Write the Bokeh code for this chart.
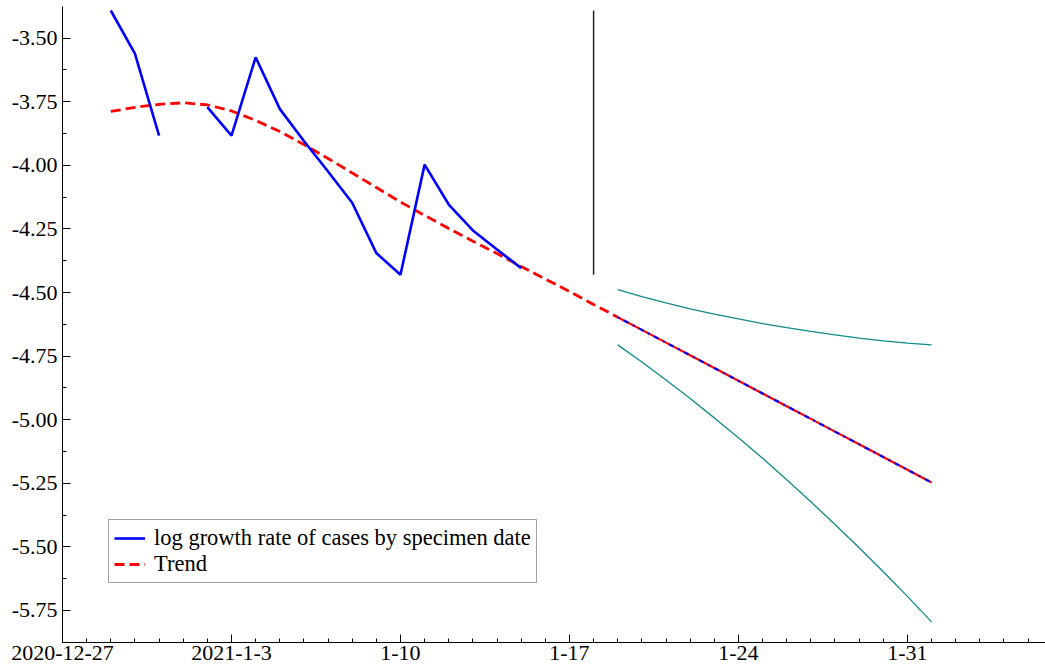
import numpy as np
import pandas as pd
from bokeh.plotting import figure
from bokeh.models import FixedTicker, Legend, LegendItem, Range1d
from bokeh.embed import file_html
from bokeh.resources import INLINE

ORIGIN = "2020-12-27"

obs_dates = ["2020-12-29", "2020-12-30", "2020-12-31", "2021-01-01", "2021-01-02",
             "2021-01-03", "2021-01-04", "2021-01-05", "2021-01-06", "2021-01-07",
             "2021-01-08", "2021-01-09", "2021-01-10", "2021-01-11", "2021-01-12",
             "2021-01-13", "2021-01-14", "2021-01-15"]
log_growth = [-3.391, -3.561, -3.883, np.nan, -3.771, -3.883, -3.575, -3.778, -3.904,
              -4.024, -4.147, -4.345, -4.430, -3.997, -4.154, -4.256, -4.331, -4.404]

trend_dates = ["2020-12-29", "2020-12-30", "2020-12-31", "2021-01-01", "2021-01-02",
               "2021-01-03", "2021-01-04", "2021-01-05", "2021-01-06", "2021-01-07",
               "2021-01-08", "2021-01-09", "2021-01-10", "2021-01-11", "2021-01-12",
               "2021-01-13", "2021-01-14", "2021-01-15", "2021-01-16", "2021-01-17",
               "2021-01-18", "2021-01-19"]
trend = [-3.788, -3.772, -3.760, -3.754, -3.762, -3.786, -3.823, -3.867, -3.918, -3.973,
         -4.030, -4.087, -4.144, -4.197, -4.248, -4.298, -4.347, -4.398, -4.447, -4.496,
         -4.547, -4.597]

proj_dates = ["2021-01-19", "2021-01-20", "2021-01-21", "2021-01-22", "2021-01-23",
              "2021-01-24", "2021-01-25", "2021-01-26", "2021-01-27", "2021-01-28",
              "2021-01-29", "2021-01-30", "2021-01-31", "2021-02-01"]
projection = [-4.597, -4.647, -4.697, -4.747, -4.797, -4.847, -4.897, -4.947, -4.997,
              -5.047, -5.097, -5.147, -5.197, -5.247]
upper = [-4.489, -4.516, -4.541, -4.564, -4.585, -4.604, -4.622, -4.638, -4.653,
         -4.667, -4.679, -4.690, -4.699, -4.706]
lower = [-4.706, -4.773, -4.844, -4.917, -4.993, -5.071, -5.152, -5.236, -5.323,
         -5.412, -5.504, -5.598, -5.695, -5.795]

marker_date = "2021-01-18"

x_tick_dates = ["2020-12-27", "2021-01-03", "2021-01-10", "2021-01-17", "2021-01-24", "2021-01-31"]
x_tick_labels = ["2020-12-27", "2021-1-3", "1-10", "1-17", "1-24", "1-31"]
y_ticks = [-3.50, -3.75, -4.00, -4.25, -4.50, -4.75, -5.00, -5.25, -5.50, -5.75]
y_tick_labels = ["-3.50", "-3.75", "-4.00", "-4.25", "-4.50", "-4.75", "-5.00", "-5.25", "-5.50", "-5.75"]

series_label = "log growth rate of cases by specimen date"
trend_label = "Trend"

origin = pd.Timestamp(ORIGIN)


def days(ds):
    return [float((pd.Timestamp(d) - origin).days) for d in ds]


FONT = "Liberation Serif"

p = figure(width=1045, height=671, output_backend="svg", toolbar_location=None,
           x_range=Range1d(0.0, 40.72), y_range=Range1d(-5.8763, -3.3753),
           min_border_left=62, min_border_right=0, min_border_top=6, min_border_bottom=29)
p.outline_line_color = None
p.xgrid.visible = False
p.ygrid.visible = False
p.background_fill_color = "white"
p.border_fill_color = "white"

xt = days(x_tick_dates)
p.xaxis.ticker = FixedTicker(ticks=xt, minor_ticks=list(np.arange(0, 41)))
p.xaxis.major_label_overrides = {t: l for t, l in zip(xt, x_tick_labels)}
p.yaxis.ticker = FixedTicker(ticks=y_ticks, minor_ticks=list(np.arange(-5.875, -3.374, 0.125)))
p.yaxis.major_label_overrides = {t: l for t, l in zip(y_ticks, y_tick_labels)}

for ax in (p.xaxis, p.yaxis):
    ax.axis_line_color = "black"
    ax.axis_line_width = 1
    ax.major_tick_in = 8
    ax.major_tick_out = 0
    ax.minor_tick_in = 4
    ax.minor_tick_out = 0
    ax.major_tick_line_color = "black"
    ax.minor_tick_line_color = "black"
    ax.major_label_text_font = FONT
    ax.major_label_text_font_size = "22px"
    ax.major_label_text_color = "black"
p.yaxis.major_label_standoff = 5
p.xaxis.major_label_standoff = 3

# vertical marker spanning observed range
obs_arr = np.array(log_growth, dtype=float)
mx = days([marker_date])[0]
p.segment(x0=[mx], y0=[np.nanmin(obs_arr)], x1=[mx], y1=[np.nanmax(obs_arr)],
          line_color="#222222", line_width=1.5)

# confidence bounds
pxs = days(proj_dates)
p.line(pxs, upper, line_color="#108a8a", line_width=1.3)
p.line(pxs, lower, line_color="#108a8a", line_width=1.3)

# projection: red with blue dash-dot over it
p.line(pxs, projection, line_color="#ff0000", line_width=2.2)
p.line(pxs, projection, line_color="#0000ff", line_width=2.2, line_dash="2 5 5 5")

# trend
r_trend = p.line(days(trend_dates), trend, line_color="#ff0000", line_width=2.8, line_dash="10 5")

# observed
r_obs = p.line(days(obs_dates), log_growth, line_color="#0000ff", line_width=2.6)

legend = Legend(items=[LegendItem(label=series_label, renderers=[r_obs]),
                       LegendItem(label=trend_label, renderers=[r_trend])],
                location=(46, 59))
legend.label_text_font = FONT
legend.label_text_font_size = "22.5px"
legend.label_text_color = "black"
legend.border_line_color = "#444444"
legend.border_line_width = 1
legend.background_fill_color = "white"
legend.background_fill_alpha = 1.0
legend.padding = 5
legend.spacing = -6
legend.margin = 0
legend.glyph_width = 31
legend.glyph_height = 18
legend.label_height = 18
legend.label_standoff = 9
p.add_layout(legend)

open("out.html", "w").write(file_html(p, INLINE))
